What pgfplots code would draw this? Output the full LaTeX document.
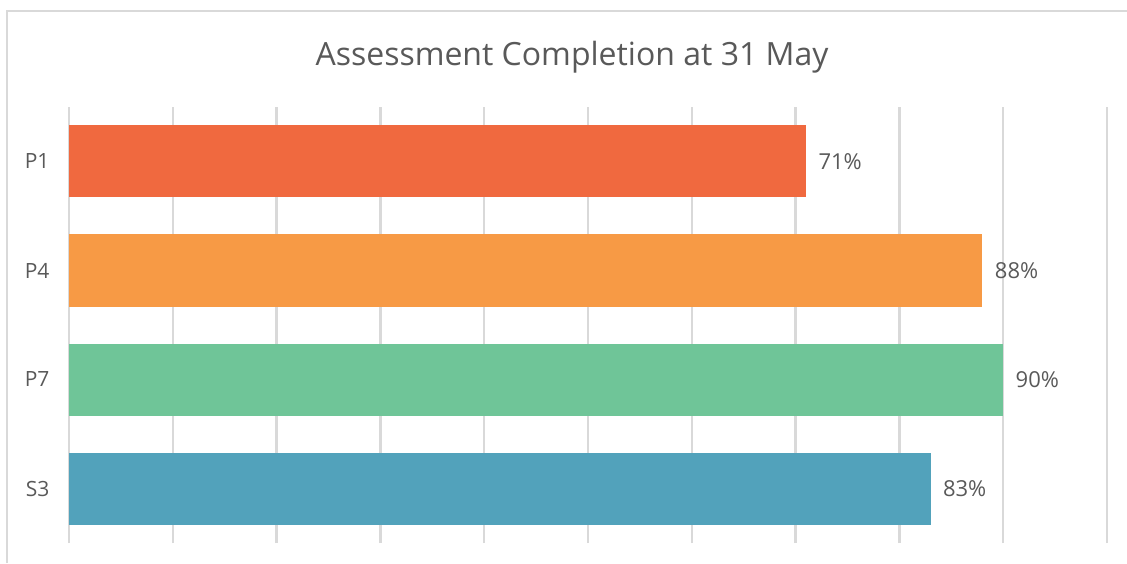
\documentclass[border=0pt]{standalone}
\usepackage{pgfplots}
\pgfplotsset{compat=1.18}
\usepackage{fontspec}
\setmainfont{Open Sans}
\definecolor{cP1}{HTML}{F0693F}
\definecolor{cP4}{HTML}{F79A45}
\definecolor{cP7}{HTML}{6FC598}
\definecolor{cS3}{HTML}{52A2BB}
\definecolor{txt}{HTML}{595959}
\definecolor{gridc}{HTML}{D9D9D9}
\begin{document}
\begin{tikzpicture}[x=1pt,y=1pt]
\path[use as bounding box] (0,0) rectangle (1127,563);
\draw[gridc, line width=2pt] (7,0) -- (7,552) -- (1127,552);
\node[txt, font=\fontsize{32}{38}\selectfont] at (572,506) {Assessment Completion at 31 May};
\begin{axis}[
  at={(69pt,20pt)}, anchor=south west,
  scale only axis, width=1038pt, height=436pt,
  xbar, bar width=72pt,
  xmin=0, xmax=100, ymin=-0.5, ymax=3.5,
  xtick={0,10,...,100}, xticklabels={},
  ytick={0,1,2,3}, yticklabels={S3,P7,P4,P1},
  yticklabel style={font=\fontsize{21}{24}\selectfont, text=txt, xshift=-16pt},
  xmajorgrids=true, ymajorgrids=false,
  x grid style={gridc, line width=2.5pt},
  axis line style={draw=none},
  major tick length=0pt,
  /pgf/number format/assume math mode=true,
  nodes near coords={\pgfmathprintnumber{\pgfplotspointmeta}\%},
  nodes near coords style={font=\fontsize{22}{26}\selectfont, text=txt, anchor=west, xshift=9pt},
  clip=false,
]
\addplot[fill=cS3, draw=none, bar shift=0pt] coordinates {(83,0)};
\addplot[fill=cP7, draw=none, bar shift=0pt] coordinates {(90,1)};
\addplot[fill=cP4, draw=none, bar shift=0pt] coordinates {(88,2)};
\addplot[fill=cP1, draw=none, bar shift=0pt] coordinates {(71,3)};
\end{axis}
\end{tikzpicture}
\end{document}
